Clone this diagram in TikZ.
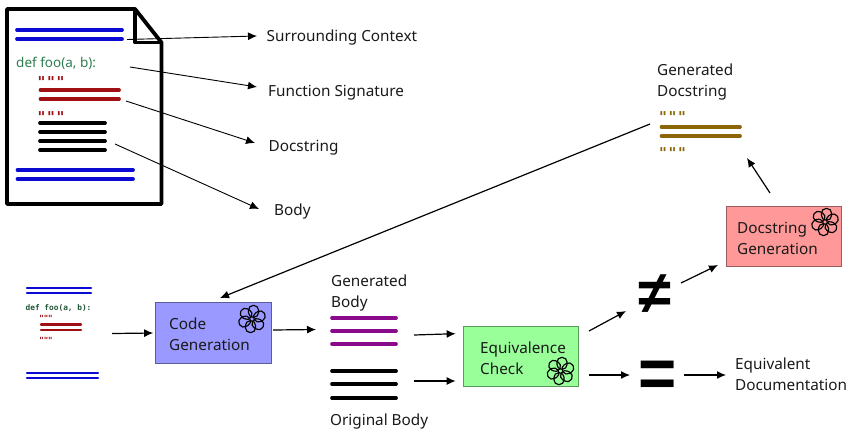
\documentclass[tikz,border=0pt]{standalone}
\usepackage{fontspec}
\setmainfont{Noto Sans}
\newfontfamily\djv{DejaVu Sans}
\newfontfamily\mon{DejaVu Sans Mono}
\newfontfamily\lib{Liberation Sans}
\usetikzlibrary{arrows.meta,calc}
\definecolor{docblue}{HTML}{0A0AD2}
\definecolor{docred}{HTML}{A00F14}
\definecolor{docgreen}{HTML}{2E7D4F}
\definecolor{docpurple}{HTML}{8B0A8B}
\definecolor{docbrown}{HTML}{8B6508}
\definecolor{boxblue}{HTML}{9999FF}
\definecolor{boxgreen}{HTML}{99FF99}
\definecolor{boxred}{HTML}{FF9999}
\newcommand{\tripleq}[1]{"\kern#1"\kern#1"}
\tikzset{
  conn/.style={draw=black,line width=1.2pt,-{Latex[length=9pt,width=8pt]}},
  fineconn/.style={conn,line width=.9pt},
  bar/.style={line width=3.7pt,line cap=round},
  thinbar/.style={line width=2.4pt,line cap=round},
  lbl/.style={anchor=west,inner sep=0pt,font=\fontsize{15.3}{21}\selectfont,text=black!90,align=left},
  box/.style={draw=#1!60!black,line width=0.8pt,fill=#1,minimum width=115.5pt,minimum height=60.5pt,inner sep=0pt},
  qt/.style={inner sep=0pt,font=\djv\bfseries\fontsize{15}{15}\selectfont},
  sqt/.style={inner sep=0pt,font=\djv\bfseries\fontsize{8.5}{8.5}\selectfont},
  pics/gptlogo/.style={code={
    \foreach \a in {0,60,...,300}{
      \draw[rotate=\a,line width=1.15pt,rounded corners=4.5pt,line join=round]
        (-3.5,-13.5) rectangle (6.5,-1.8);
    }
  }}
}
\begin{document}
\begin{tikzpicture}[x=1pt,y=-1pt]
\useasboundingbox (0,0) rectangle (848,431);
% document
\draw[line width=3.8pt,line join=round] (7,9) -- (135,9) -- (161.5,42.5) -- (161.5,204) -- (7,204) -- cycle;
\draw[line width=3.4pt,line join=round] (135,9) -- (135,42.5) -- (161.5,42.5);
\foreach \y in {30,39}{\draw[bar,docblue] (17,\y) -- (122,\y);}
\node[anchor=west,inner sep=0pt,text=docgreen,font=\fontsize{13.5}{15}\selectfont] (sig) at (16,63.5) {def foo(a, b):};
\node[qt,text=docred] (q1) at (51,82) {\tripleq{1.6pt}};
\foreach \y in {90,99}{\draw[bar,docred] (40.5,\y) -- (119,\y);}
\node[qt,text=docred] (q2) at (51,117.5) {\tripleq{1.6pt}};
\foreach \y in {123,132,141,150}{\draw[bar,black] (40,\y) -- (105,\y);}
\foreach \y in {170,179}{\draw[bar,docblue] (17.5,\y) -- (133,\y);}
% doc labels
\node[lbl] (ctx) at (266.5,37.5) {Surrounding Context};
\node[lbl] (fsig) at (268,92.5) {Function Signature};
\node[lbl] (dstr) at (268.5,147.5) {Docstring};
\node[lbl] (bdy) at (274,212) {Body};
\coordinate (a1) at (127,39.5);
\coordinate (a2) at (130,67);
\coordinate (a3) at (126,101);
\coordinate (a4) at (115,144);
\coordinate (t1) at (257,36);
\coordinate (t2) at (257,87);
\coordinate (t3) at (255,143);
\coordinate (t4) at (259,209);
\draw[fineconn] (a1) -- (t1);
\draw[fineconn] (a2) -- (t2);
\draw[fineconn] (a3) -- (t3);
\draw[fineconn] (a4) -- (t4);
% small snippet
\foreach \y in {288,293}{\draw[thinbar,docblue] (27,\y) -- (91,\y);}
\node[anchor=west,inner sep=0pt,text=docgreen!70!black,font=\mon\bfseries\fontsize{7.8}{9}\selectfont] (ssig) at (25.5,308) {def foo(a, b):};
\node[sqt,text=docred] (sq1) at (46,318.7) {"""};
\foreach \y in {324.5,330}{\draw[thinbar,docred] (41,\y) -- (81,\y);}
\node[sqt,text=docred] (sq2) at (46,340.3) {"""};
\foreach \y in {373,378}{\draw[thinbar,docblue] (27,\y) -- (98,\y);}
\coordinate (s0) at (112,333.5);
% boxes
\node[box=boxblue] (code) at (213.3,333) {};
\node[lbl,anchor=north west] (codet) at (169,318) {Code\\Generation};
\pic at (252,319) {gptlogo};
\node[box=boxgreen] (equiv) at (520.8,356.5) {};
\node[lbl,anchor=north west] (equivt) at (480,342) {Equivalence\\Check};
\pic at (560.5,371) {gptlogo};
\node[box=boxred] (docgen) at (783.8,236.5) {};
\node[lbl,anchor=north west] (docgent) at (737,222) {Docstring\\Generation};
\pic at (825,222) {gptlogo};
% generated body
\node[lbl,anchor=north west] (gb) at (331,275) {Generated\\Body};
\foreach \y in {318,331,344}{\draw[bar,docpurple] (332,\y) -- (396,\y);}
\foreach \y in {371,384,398}{\draw[bar,black] (332,\y) -- (396,\y);}
\node[lbl] (ob) at (330,421.5) {Original Body};
\coordinate (gbr) at (414,335);
\coordinate (obr) at (414,381);
\coordinate (gbl) at (273,330);
\coordinate (gbt) at (316,329.5);
% generated docstring
\node[lbl,anchor=north west] (gd) at (657,64) {Generated\\Docstring};
\node[qt,text=docbrown] (bq1) at (672.5,117) {\tripleq{1.6pt}};
\foreach \y in {127,136}{\draw[bar,docbrown] (661.5,\y) -- (740,\y);}
\node[qt,text=docbrown] (bq2) at (672.5,152.6) {\tripleq{1.6pt}};
\coordinate (dl) at (650,124);
\coordinate (dt) at (220,298);
\coordinate (gt) at (747,158);
\coordinate (gs) at (770,193);
% symbols
\node[inner sep=0pt,font=\lib\bfseries\fontsize{60}{60}\selectfont] (neq) at (654.5,294) {≠};
\node[inner sep=0pt,font=\lib\bfseries\fontsize{56}{56}\selectfont] (eq) at (658,379) {\scalebox{1.17}[1.25]{=}};
\node[lbl,anchor=north west] (eqd) at (735,358) {Equivalent\\Documentation};
% connectors
\draw[conn,shorten >=2pt] (s0) -- (code.west);
\draw[conn] (dl) -- (dt);
\draw[conn] (gbl) -- (gbt);
\draw[conn] (gbr) -- ($(equiv.west)+(-7,-22.8)$);
\draw[conn] (obr) -- ($(equiv.west)+(-7,24.5)$);
\coordinate (e1) at (589,331);
\coordinate (e1t) at (626,311);
\coordinate (e2) at (589,375);
\coordinate (e2t) at (630,375);
\coordinate (n1) at (681,283);
\coordinate (n1t) at (718,265);
\coordinate (q1a) at (684,375);
\coordinate (q1b) at (726,375);
\draw[conn] (e1) -- (e1t);
\draw[conn] (e2) -- (e2t);
\draw[conn] (n1) -- (n1t);
\draw[conn] (q1a) -- (q1b);
\draw[conn] (gs) -- (gt);
\end{tikzpicture}
\end{document}
